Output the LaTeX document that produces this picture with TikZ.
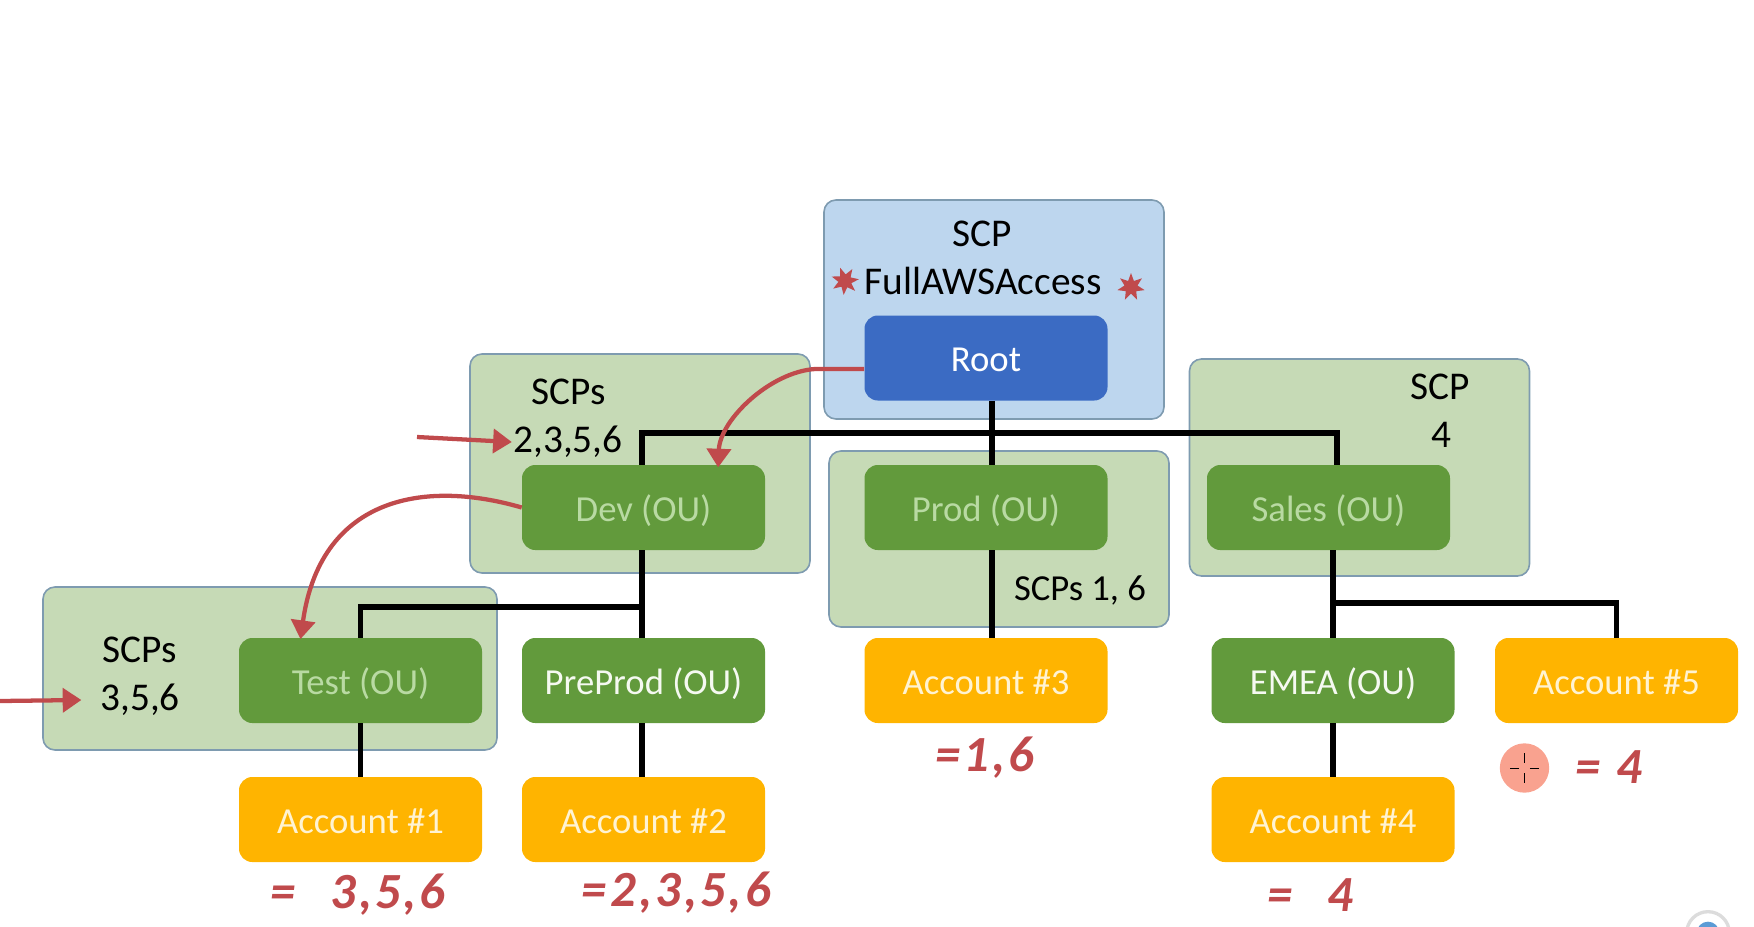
\documentclass[tikz,border=0pt]{standalone}
\usepackage{fontspec}
\setmainfont{Carlito}
\usetikzlibrary{arrows.meta,shapes.geometric}
\definecolor{scpblue}{HTML}{BDD6EE}
\definecolor{rootblue}{HTML}{3B6BC3}
\definecolor{scpgreen}{HTML}{C6DAB6}
\definecolor{edgeblue}{HTML}{7E9BB0}
\definecolor{ougreen}{HTML}{629A3C}
\definecolor{acctorange}{HTML}{FFB400}
\definecolor{inkred}{HTML}{C04A4C}
\definecolor{dimtext}{HTML}{B9DAA3}
\definecolor{acctext}{HTML}{FFF3D2}
\definecolor{pointerpink}{HTML}{F9A28F}
\definecolor{ringgrey}{HTML}{DCDCDC}
\definecolor{dotblue}{HTML}{5B9BD5}
\tikzset{
  scparea/.style={draw=edgeblue,line width=1.2pt,rounded corners=9pt,inner sep=0pt,minimum width=255pt},
  unitbox/.style={rounded corners=10pt,inner sep=0pt,minimum width=182.25pt,minimum height=63.75pt,text height=24pt,text depth=3.2pt,font=\fontsize{27.5}{27.5}\selectfont},
  oubox/.style={unitbox,fill=ougreen,text=#1},
  oubox/.default=dimtext,
  acctbox/.style={unitbox,fill=acctorange,text=acctext},
  scptext/.style={inner sep=0pt,font=\fontsize{29.5}{29.5}\selectfont},
  treeline/.style={line width=3.8pt,black},
  inkline/.style={line width=3.2pt,inkred,-{Triangle[length=14pt,width=18pt]}},
  handtext/.style={inner sep=0pt,text=inkred,font=\fontsize{38}{38}\selectfont\bfseries\itshape\addfontfeature{LetterSpace=6}},
  blot/.style={star,star points=7,star point ratio=2.1,fill=inkred,minimum size=21pt,inner sep=0pt},
}
\begin{document}
\begin{tikzpicture}[x=0.75pt,y=0.75pt,yscale=-1,xscale=1]
\useasboundingbox (0,0) rectangle (1754,926);

% shaded policy areas
\node (rootarea) at (994,309.5) [scparea,fill=scpblue,minimum height=164.25pt] {};
\node (salesarea) at (1359.5,467.5) [scparea,fill=scpgreen,minimum height=162.75pt] {};
\node (prodarea) at (999,539) [scparea,fill=scpgreen,minimum height=132pt] {};
\node (devarea) at (640,463.5) [scparea,fill=scpgreen,minimum height=164.25pt] {};
\node (testarea) at (270,668.5) [scparea,minimum width=340.5pt,fill=scpgreen,minimum height=122.25pt] {};

\node (scproot) at (982,234) [scptext] {SCP};
\node (fullaccess) at (983,281) [scptext] {FullAWSAccess};
\node (scpdev) at (569,392) [scptext] {SCPs};
\node (listdev) at (568,442) [scptext] {2,3,5,6};
\node (scptest) at (140,650) [scptext] {SCPs};
\node (listtest) at (140,700) [scptext] {3,5,6};
\node (scpsales) at (1440,387) [scptext] {SCP};
\node (listsales) at (1441,435) [scptext] {4};
\node (listprod) at (1080,590) [scptext,font=\fontsize{27.5}{27.5}\selectfont] {SCPs 1, 6};

\node (root) at (986,358) [unitbox,fill=rootblue,text=white] {Root};
\node (dev) at (643.5,507.5) [oubox] {Dev (OU)};
\node (prod) at (986,507.5) [oubox] {Prod (OU)};
\node (sales) at (1328.5,507.5) [oubox] {Sales (OU)};
\node (test) at (360.5,680.5) [oubox] {Test (OU)};
\node (preprod) at (643.5,680.5) [oubox=white!85!dimtext] {PreProd (OU)};
\node (emea) at (1333,680.5) [oubox=white!85!dimtext] {EMEA (OU)};
\node (acctthree) at (986,680.5) [acctbox] {Account \#3};
\node (acctfive) at (1616.5,680.5) [acctbox] {Account \#5};
\node (acctone) at (360.5,819.5) [acctbox] {Account \#1};
\node (accttwo) at (643.5,819.5) [acctbox] {Account \#2};
\node (acctfour) at (1333,819.5) [acctbox] {Account \#4};

% tree
\coordinate (busleft) at (642,433);
\coordinate (busright) at (1337,433);
\coordinate (oubus) at (642,607);
\coordinate (emeabus) at (1335,603);
\draw [treeline] ([xshift=4.5pt]root.south) -- ([xshift=4.5pt]prod.north);
\draw [treeline] ([xshift=4.5pt]prod.south) -- ([xshift=4.5pt]acctthree.north);
\draw [treeline] (busleft |- dev.north) -- (busleft) -- (busright) -- (busright |- sales.north);
\draw [treeline] (busleft |- dev.south) -- (busleft |- preprod.north);
\draw [treeline] (test.north) |- (oubus);
\draw [treeline] (test.south) -- (acctone.north);
\draw [treeline] (busleft |- preprod.south) -- (busleft |- accttwo.north);
\draw [treeline] (emea.north |- sales.south) -- (emea.north);
\draw [treeline] (acctfive.north) |- (emeabus);
\draw [treeline] (emea.south) -- (acctfour.north);

% red marks
\coordinate (inkdev) at (417,437);
\coordinate (inktest) at (0,701);
\draw [inkline] ([yshift=8.25pt]root.west) -- (815,369) .. controls (770,372) and (720,420) .. ([xshift=56pt,yshift=2pt]dev.north);
\draw [inkline] (dev.west) .. controls (420,478) and (320,500) .. ([xshift=-45pt,yshift=1pt]test.north);
\draw [inkline] (inkdev) -- ([xshift=-1pt]listdev.west);
\draw [inkline] (inktest) -- ([xshift=-14pt]listtest.west);
\node (blotleft) at (845,281) [blot,rotate=20] {};
\node (blotright) at (1131,287) [blot] {};

\node (handone) at (358,895) [handtext] {=\hspace{26pt}3,5,6};
\node (handtwo) at (676,893) [handtext] {=\hspace{3pt}2,3,5,6};
\node (handthree) at (985,758) [handtext] {=\hspace{2pt}1,6};
\node (handfour) at (1310,895) [handtext] {=\hspace{26pt}4};
\node (handfive) at (1609,767) [handtext] {=\hspace{12pt}4};

% pointer
\node (pointer) at (1524.5,768) [circle,fill=pointerpink,minimum size=37pt,inner sep=0pt] {};
\draw [black,line width=.7pt] ([yshift=4pt]pointer.center) -- ([yshift=11pt]pointer.center);
\draw [black,line width=.7pt] ([yshift=-4pt]pointer.center) -- ([yshift=-11pt]pointer.center);
\draw [black,line width=.7pt] ([xshift=4pt]pointer.center) -- ([xshift=11pt]pointer.center);
\draw [black,line width=.7pt] ([xshift=-4pt]pointer.center) -- ([xshift=-11pt]pointer.center);

% corner badge
\node (badgering) at (1708,933) [circle,draw=ringgrey,line width=2.5pt,minimum size=32pt,inner sep=0pt] {};
\node (badgedot) at (1708,933) [circle,fill=dotblue,minimum size=17pt,inner sep=0pt] {};
\end{tikzpicture}
\end{document}
